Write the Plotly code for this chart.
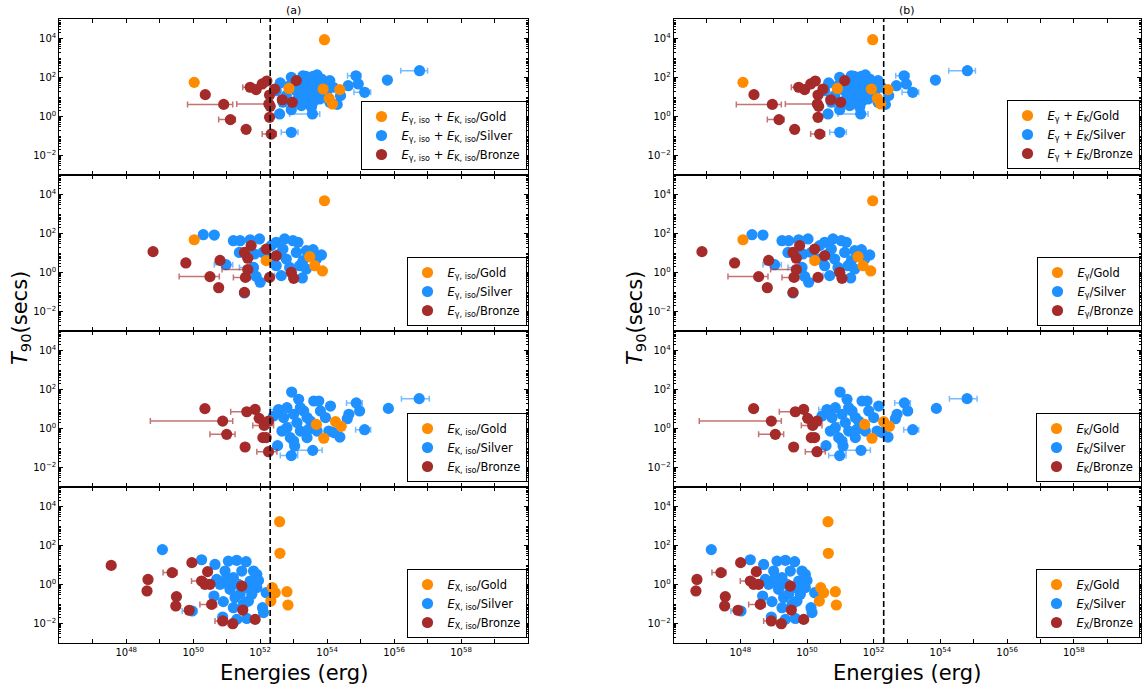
import plotly.graph_objects as go

# ---------------- data (log10 values) ----------------
# Row 1: E_gamma + E_K
r1_gold_T = [3.94, 1.75, 1.44, 1.41, 1.38, 0.93, 0.64]
a1_gold_E = [53.92, 50.03, 52.86, 53.88, 54.38, 54.06, 54.16]
b1_gold_E = [51.97, 48.08, 50.91, 51.93, 52.43, 52.11, 52.21]
r1_gold_xerr = {}

r1_silver_T = [2.35, 1.87, 2.09, 1.24, 1.58, 1.67, 1.07, 0.62, 1.84, 2.13, 2.06, 2.01, 1.72, 0.13,
               0.35, 0.13, -0.81, 1.32, 1.67, 1.58, 1.41, 1.24, 1.32, 1.07, 0.90, 0.81, 0.73, 0.90,
               0.56, 0.47, 1.58, 1.15, 1.32, 1.07, 1.84, 1.75, 1.92, 0.73, 0.73, 1.50, 1.58, 0.73,
               2.09, 2.06]
a1_silver_E = [56.76, 55.80, 54.86, 55.12, 54.63, 54.93, 54.40, 54.30, 54.08, 53.70, 53.36, 52.93,
               52.60, 52.58, 52.93, 53.56, 52.93, 52.48, 53.18, 53.38, 53.53, 53.28, 53.68, 53.48,
               53.13, 53.33, 53.58, 53.78, 53.23, 53.53, 53.88, 53.98, 53.08, 52.78, 53.43, 53.68,
               53.83, 53.03, 54.08, 54.18, 52.88, 52.68, 53.28, 53.58]
b1_silver_E = [54.81, 53.85, 52.91, 53.17, 52.68, 52.98, 52.45, 52.35, 52.13, 51.75, 51.41, 50.98,
               50.65, 50.63, 50.98, 51.61, 50.98, 50.53, 51.23, 51.43, 51.58, 51.33, 51.73, 51.53,
               51.18, 51.38, 51.63, 51.83, 51.28, 51.58, 51.93, 52.03, 51.13, 50.83, 51.48, 51.73,
               51.88, 51.08, 52.13, 52.23, 50.93, 50.73, 51.33, 51.63]
r1_silver_xerr = {0: (0.56, 0.24), 2: (0.25, 0.15), 3: (0.32, 0.18), 15: (0.68, 0.22), 16: (0.30, 0.20)}

r1_bronze_T = [1.12, 0.62, -0.16, -0.66, -0.90, 1.50, 1.38, 1.67, 1.82, 1.10, 0.64, 0.52, -0.04,
               0.86, 0.73, 1.41, 1.84]
a1_bronze_E = [50.36, 50.91, 51.11, 51.58, 52.33, 51.70, 51.88, 52.06, 52.20, 52.28, 52.26, 52.30,
               52.28, 52.66, 52.96, 52.43, 53.08]
b1_bronze_E = [48.41, 48.96, 49.16, 49.63, 50.38, 49.75, 49.93, 50.11, 50.25, 50.33, 50.31, 50.35,
               50.33, 50.71, 51.01, 50.48, 51.13]
r1_bronze_xerr = {1: (1.08, 0.27), 2: (0.35, 0.15), 4: (0.27, 0.15), 5: (0.22, 0.18), 10: (0.96, 0.10)}

# Row 2: E_gamma
r2_gold_T = [3.68, 1.68, 0.61, 0.81, 0.35, 0.08]
a2_gold_E = [53.92, 50.03, 52.18, 53.48, 53.63, 53.86]
b2_gold_E = [51.97, 48.08, 50.23, 51.53, 51.68, 51.91]
r2_gold_xerr = {}

r2_silver_T = [1.94, 1.92, 0.40, -1.05, -0.50, -0.20, 0.26, 1.63, 1.63, 1.68, 1.72, 1.03, 0.95,
               -0.28, 0.90, 1.17, 1.55, 1.20, 1.63, 1.55, 0.69, 1.03, 0.61, 0.35, -0.16, 1.12, 0.26,
               1.72, 0.35, 0.95, 1.38, 1.03, 0.69, 0.18, 0.69]
a2_silver_E = [50.30, 50.63, 50.98, 51.53, 52.00, 51.88, 51.80, 51.20, 51.40, 51.70, 51.98, 51.38,
               51.83, 53.26, 53.83, 53.58, 52.48, 52.68, 52.98, 53.13, 52.78, 53.08, 53.28, 52.48,
               52.63, 53.38, 52.88, 52.73, 53.18, 52.58, 52.33, 52.08, 52.28, 53.38, 53.68]
b2_silver_E = [48.35, 48.68, 49.03, 49.58, 50.05, 49.93, 49.85, 49.25, 49.45, 49.75, 50.03, 49.43,
               49.88, 51.31, 51.88, 51.63, 50.53, 50.73, 51.03, 51.18, 50.83, 51.13, 51.33, 50.53,
               50.68, 51.43, 50.93, 50.78, 51.23, 50.63, 50.38, 50.13, 50.33, 51.43, 51.73]
r2_silver_xerr = {2: (0.35, 0.20), 6: (0.42, 0.0), 24: (0.20, 0.45)}

r2_bronze_T = [1.07, 0.49, -0.21, -0.78, -1.02, -0.25, 0.62, 1.38, 0.73, 1.03, 1.20, -0.25, 0.86,
               0.01, -0.30, 0.15]
a2_bronze_E = [48.80, 49.78, 50.50, 50.76, 51.53, 51.56, 50.80, 51.73, 51.63, 51.53, 52.18, 52.28,
               52.48, 52.93, 53.00, 51.63]
b2_bronze_E = [46.85, 47.83, 48.55, 48.81, 49.58, 49.61, 48.85, 49.78, 49.68, 49.58, 50.23, 50.33,
               50.53, 50.98, 51.05, 49.68]
r2_bronze_xerr = {2: (0.92, 0.28), 5: (0.36, 0.14), 15: (0.77, 0.0)}

# Row 3: E_K
r3_gold_T = [0.21, -0.50, 0.35, 0.11]
a3_gold_E = [53.68, 53.90, 54.25, 54.42]
b3_gold_E = [51.73, 51.95, 52.30, 52.47]
r3_gold_xerr = {}

r3_silver_T = [1.53, 1.03, 1.31, 0.90, -0.06, 0.73, 0.50, -0.44, 1.87, 1.50, 0.97, -0.88, -1.39,
               -0.90, -1.12, 1.41, 1.41, 1.15, 0.56, -0.47, -0.13, -0.47, 0.04, 0.56, 0.73, 0.90,
               0.38, 1.07, 0.90, -0.13, -0.04, -0.13, 0.30, 0.64, -0.21, 1.07, 0.56, -0.13, -0.64]
a3_silver_E = [56.75, 55.83, 54.87, 54.97, 55.12, 54.65, 54.60, 54.38, 52.94, 53.15, 52.55, 52.52,
               52.93, 53.03, 53.57, 53.60, 53.75, 54.10, 53.95, 53.40, 53.20, 52.90, 52.80, 52.70,
               53.00, 53.30, 53.50, 53.20, 53.80, 54.05, 53.45, 52.65, 53.10, 52.40, 54.20, 52.80,
               53.40, 53.70, 53.00]
b3_silver_E = [54.80, 53.88, 52.92, 53.02, 53.17, 52.70, 52.65, 52.43, 50.99, 51.20, 50.60, 50.57,
               50.98, 51.08, 51.62, 51.65, 51.80, 52.15, 52.00, 51.45, 51.25, 50.95, 50.85, 50.75,
               51.05, 51.35, 51.55, 51.25, 51.85, 52.10, 51.50, 50.70, 51.15, 50.45, 52.25, 50.85,
               51.45, 51.75, 51.05]
r3_silver_xerr = {0: (0.53, 0.30), 2: (0.29, 0.18), 4: (0.27, 0.18), 10: (0.25, 0.0),
                  12: (0.33, 0.19), 14: (0.45, 0.28), 32: (0.30, 0.0)}

r3_bronze_T = [1.02, 0.38, -0.30, -0.95, 0.86, 0.98, 0.52, 0.16, 0.38, -0.47, -0.47, -1.19]
a3_bronze_E = [50.35, 50.88, 51.00, 51.55, 51.60, 51.85, 51.97, 52.12, 52.25, 52.08, 52.18, 52.25]
b3_bronze_E = [48.40, 48.93, 49.05, 49.60, 49.65, 49.90, 50.02, 50.17, 50.30, 50.13, 50.23, 50.30]
r3_bronze_xerr = {1: (2.16, 0.30), 2: (0.50, 0.25), 4: (0.48, 0.25), 7: (0.34, 0.28), 11: (0.35, 0.25)}

# Row 4: E_X
r4_gold_T = [3.22, 1.60, -0.16, -0.42, -0.85, -0.37, -1.05]
a4_gold_E = [52.58, 52.59, 52.36, 52.45, 52.32, 52.80, 52.83]
b4_gold_E = [50.63, 50.64, 50.41, 50.50, 50.37, 50.85, 50.88]
r4_gold_xerr = {}

r4_silver_T = [1.79, 1.27, -1.36, 1.03, -0.59, -1.67, -1.79, -1.74, -1.19, -1.44, 1.20, 1.24, 1.17,
               0.52, 0.21, -0.42, -0.88, -1.02, -1.19, 0.69, 0.35, 0.69, 0.18, 0.01, -0.25, -0.50,
               -0.50, -0.16, -0.85, -0.67, 0.01, 0.69, 0.26, 0.35, -0.16, 0.01]
a4_silver_E = [49.08, 50.25, 49.97, 50.65, 50.62, 50.88, 51.30, 51.60, 52.07, 52.10, 51.05, 51.30,
               51.58, 51.90, 51.95, 52.18, 50.90, 51.50, 51.20, 50.95, 51.20, 51.45, 51.70, 50.80,
               51.10, 51.40, 51.75, 51.90, 51.65, 51.25, 51.05, 51.80, 50.70, 51.00, 51.60, 51.35]
b4_silver_E = [47.13, 48.30, 48.02, 48.70, 48.67, 48.93, 49.35, 49.65, 50.12, 50.15, 49.10, 49.35,
               49.63, 49.95, 50.00, 50.23, 48.95, 49.55, 49.25, 49.00, 49.25, 49.50, 49.75, 48.85,
               49.15, 49.45, 49.80, 49.95, 49.70, 49.30, 49.10, 49.85, 48.75, 49.05, 49.65, 49.40]
r4_silver_xerr = {2: (0.30, 0.13)}

r4_bronze_T = [0.98, 0.26, -0.33, 0.61, -0.62, -1.10, -1.32, 1.12, 0.66, 0.18, 0.01, -1.02, -1.87,
               -2.01, -1.31, -0.08, -1.79, 0.01]
a4_bronze_E = [47.55, 48.65, 48.62, 49.37, 49.50, 49.48, 49.88, 49.96, 50.43, 50.25, 50.50, 50.55,
               50.88, 51.18, 51.48, 51.45, 51.85, 50.35]
b4_bronze_E = [45.60, 46.70, 46.67, 47.42, 47.55, 47.53, 47.93, 48.01, 48.48, 48.30, 48.55, 48.60,
               48.93, 49.23, 49.53, 49.50, 49.90, 48.40]
r4_bronze_xerr = {3: (0.27, 0.15), 9: (0.30, 0.15), 11: (0.35, 0.15), 12: (0.23, 0.12)}

labels_a = ["<i>E</i><sub>γ, iso</sub> + <i>E</i><sub>K, iso</sub>",
            "<i>E</i><sub>γ, iso</sub>", "<i>E</i><sub>K, iso</sub>", "<i>E</i><sub>X, iso</sub>"]
labels_b = ["<i>E</i><sub>γ</sub> + <i>E</i><sub>K</sub>",
            "<i>E</i><sub>γ</sub>", "<i>E</i><sub>K</sub>", "<i>E</i><sub>X</sub>"]
classes = ["Gold", "Silver", "Bronze"]
threshold_logE = 52.3
x_label_decades = [48, 50, 52, 54, 56, 58]
x_minor_decades = [46, 47, 49, 51, 53, 55, 57, 59, 60]
y_label_decades = [-2, 0, 2, 4]

rows = [
    {"T": {"Gold": r1_gold_T, "Silver": r1_silver_T, "Bronze": r1_bronze_T},
     "a": {"Gold": a1_gold_E, "Silver": a1_silver_E, "Bronze": a1_bronze_E},
     "b": {"Gold": b1_gold_E, "Silver": b1_silver_E, "Bronze": b1_bronze_E},
     "err": {"Gold": r1_gold_xerr, "Silver": r1_silver_xerr, "Bronze": r1_bronze_xerr}},
    {"T": {"Gold": r2_gold_T, "Silver": r2_silver_T, "Bronze": r2_bronze_T},
     "a": {"Gold": a2_gold_E, "Silver": a2_silver_E, "Bronze": a2_bronze_E},
     "b": {"Gold": b2_gold_E, "Silver": b2_silver_E, "Bronze": b2_bronze_E},
     "err": {"Gold": r2_gold_xerr, "Silver": r2_silver_xerr, "Bronze": r2_bronze_xerr}},
    {"T": {"Gold": r3_gold_T, "Silver": r3_silver_T, "Bronze": r3_bronze_T},
     "a": {"Gold": a3_gold_E, "Silver": a3_silver_E, "Bronze": a3_bronze_E},
     "b": {"Gold": b3_gold_E, "Silver": b3_silver_E, "Bronze": b3_bronze_E},
     "err": {"Gold": r3_gold_xerr, "Silver": r3_silver_xerr, "Bronze": r3_bronze_xerr}},
    {"T": {"Gold": r4_gold_T, "Silver": r4_silver_T, "Bronze": r4_bronze_T},
     "a": {"Gold": a4_gold_E, "Silver": a4_silver_E, "Bronze": a4_bronze_E},
     "b": {"Gold": b4_gold_E, "Silver": b4_silver_E, "Bronze": b4_bronze_E},
     "err": {"Gold": r4_gold_xerr, "Silver": r4_silver_xerr, "Bronze": r4_bronze_xerr}},
]

# ---------------- styling / layout ----------------
W, H = 1143, 694
COL_X = [(59.3, 528.0), (673.6, 1140.5)]
ROW_Y = [(19, 175), (175, 331), (331, 487), (487, 643)]
LEG_RIGHT = [526.5, 1139.5]
LEG_BOTTOM = [[170, 326, 482, 638], [169, 326, 482, 638]]
COLORS = {"Gold": "#FF8C00", "Silver": "#1E90FF", "Bronze": "#A52A2A"}
ERRC = {"Gold": "rgba(255,140,0,0.6)", "Silver": "rgba(30,144,255,0.6)",
        "Bronze": "rgba(165,42,42,0.65)"}
DRAW_ORDER = ["Silver", "Bronze", "Gold"]
RANK = {"Gold": 1, "Silver": 2, "Bronze": 3}
FONT = "DejaVu Sans"


def sup(k):
    return "10<sup>%s</sup>" % (str(k).replace("-", "−"))


def p10(v):
    return 10.0 ** float(v)


fig = go.Figure()
layout = dict(width=W, height=H, margin=dict(l=0, r=0, t=0, b=0),
              paper_bgcolor="white", plot_bgcolor="white", showlegend=True,
              font=dict(family=FONT, color="black"))

for c, colkey in enumerate(["a", "b"]):
    for r in range(4):
        n = c * 4 + r + 1
        xs = "" if n == 1 else str(n)
        row = rows[r]
        lab = (labels_a if c == 0 else labels_b)[r]
        legname = "legend" + ("" if n == 1 else str(n))
        for cls in DRAW_ORDER:
            logE = row[colkey][cls]
            logT = row["T"][cls]
            errd = row["err"][cls]
            plus, minus = [], []
            for i, le in enumerate(logE):
                m, p = errd.get(i, (0.0, 0.0))
                plus.append(p10(le + p) - p10(le))
                minus.append(p10(le) - p10(le - m))
            fig.add_trace(go.Scatter(
                x=[p10(v) for v in logE], y=[p10(t) for t in logT], mode="markers",
                name=lab + "/" + cls, legend=legname, legendrank=RANK[cls],
                marker=dict(color=COLORS[cls], size=11.2, line=dict(width=0)),
                error_x=dict(type="data", array=plus, arrayminus=minus, symmetric=False,
                             color=ERRC[cls], thickness=1.5, width=3),
                xaxis="x" + xs, yaxis="y" + xs, hoverinfo="skip"))
        fig.add_trace(go.Scatter(
            x=[p10(threshold_logE), p10(threshold_logE)], y=[p10(-3), p10(5)], mode="lines",
            line=dict(color="black", width=1.6, dash="6px,3px"), showlegend=False,
            xaxis="x" + xs, yaxis="y" + xs, hoverinfo="skip"))

        x0, x1 = COL_X[c]
        ytop, ybot = ROW_Y[r]
        bottom = (r == 3)
        layout["xaxis" + xs] = dict(
            domain=[x0 / W, x1 / W], anchor="y" + xs, type="log", range=[46, 60],
            showline=True, mirror="allticks", linecolor="black", linewidth=1,
            ticks="inside", ticklen=4, tickcolor="black", tickwidth=1,
            tickmode="array", tickvals=[p10(k) for k in x_label_decades],
            ticktext=[sup(k) for k in x_label_decades],
            minor=dict(ticks="inside", ticklen=4, tickcolor="black", tickmode="array",
                       tickvals=[p10(k) for k in x_minor_decades], showgrid=False),
            showticklabels=bottom, showgrid=False, zeroline=False, automargin=False,
            tickfont=dict(family=FONT, size=10, color="black"))
        layout["yaxis" + xs] = dict(
            domain=[1 - ybot / H, 1 - ytop / H], anchor="x" + xs, type="log", range=[-3, 5],
            showline=True, mirror="allticks", linecolor="black", linewidth=1,
            ticks="inside", ticklen=4, tickcolor="black", tickwidth=1,
            tickmode="array", tickvals=[p10(k) for k in y_label_decades],
            ticktext=[sup(k) for k in y_label_decades],
            minor=dict(ticks="inside", ticklen=2, tickcolor="black", dtick="D1", showgrid=False),
            showgrid=False, zeroline=False, automargin=False,
            tickfont=dict(family=FONT, size=10, color="black"))
        layout[legname] = dict(
            x=LEG_RIGHT[c] / W, y=1 - LEG_BOTTOM[c][r] / H, xanchor="right", yanchor="bottom",
            xref="paper", yref="paper", bgcolor="white", bordercolor="black", borderwidth=1,
            font=dict(family=FONT, size=11.5, color="black"), tracegroupgap=0,
            traceorder="normal", itemclick=False)

ann = []
for c, t in enumerate(["(a)", "(b)"]):
    cx = (COL_X[c][0] + COL_X[c][1]) / 2 / W
    ann.append(dict(text=t, x=cx, y=1 - 10 / H, xref="paper", yref="paper", showarrow=False,
                    xanchor="center", yanchor="middle",
                    font=dict(family=FONT, size=11, color="black")))
    ann.append(dict(text="Energies (erg)", x=cx, y=1 - 673 / H, xref="paper", yref="paper",
                    showarrow=False, xanchor="center", yanchor="middle",
                    font=dict(family=FONT, size=21, color="black")))
for px in [21, 636]:
    ann.append(dict(text="<i>T</i><sub>90</sub>(secs)", x=px / W, y=1 - 318 / H, xref="paper",
                    yref="paper", showarrow=False, textangle=-90, xanchor="center",
                    yanchor="middle", font=dict(family=FONT, size=21, color="black")))
layout["annotations"] = ann
fig.update_layout(**layout)
fig.write_html("out.html")
